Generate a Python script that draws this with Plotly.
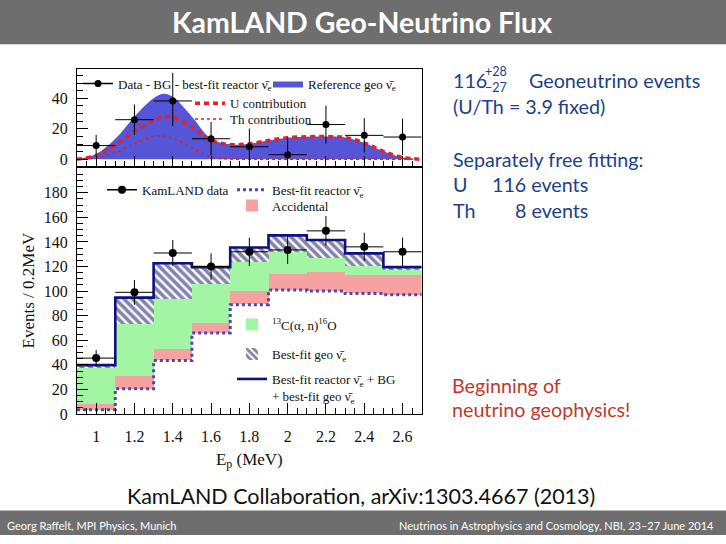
import plotly.graph_objects as go

W, H = 726, 544

# ---------------- data ----------------
# top panel: smooth expectation curves (events / 0.2 MeV)
E_CURVE = [0.9, 1.0, 1.1, 1.2, 1.3, 1.35, 1.4, 1.5, 1.6, 1.7, 1.8, 1.9, 2.0, 2.1, 2.2, 2.3, 2.4, 2.5, 2.6, 2.7]
REF_GEO = [0, 3.4, 13.5, 28, 40, 43, 41, 28, 13.5, 9.8, 10.2, 12.3, 14.2, 14.8, 14.9, 14.3, 10.8, 5.2, 1.2, 0]
U_CONTRIB = [0, 2.4, 9.3, 18.5, 25.6, 27.8, 27.6, 21, 12.5, 9.6, 10.2, 12.3, 14.2, 14.8, 14.9, 14.3, 10.8, 5.2, 1.2, 0]
TH_CONTRIB = [0, 1.0, 4.3, 10.3, 14.9, 15.3, 13.8, 7.6, 1.5, 0.2, 0, 0, 0, 0, 0, 0, 0, 0, 0, 0]

# bins
E_CENTERS = [1.0, 1.2, 1.4, 1.6, 1.8, 2.0, 2.2, 2.4, 2.6]
E_EDGES = [0.9, 1.1, 1.3, 1.5, 1.7, 1.9, 2.1, 2.3, 2.5, 2.7]
BIN_WIDTH = 0.2

# top panel data: Data - BG - best-fit reactor
GEO_DATA = [9, 26, 38.3, 13.5, 8.2, 3, 22.8, 15.7, 14.6]
GEO_ERR_UP = [7, 10, 18.5, 11, 12, 11.6, 12.5, 11.3, 12]
GEO_ERR_DN = [7, 10, 16.6, 11, 12, 11.6, 12.5, 11.3, 12]

# lower panel components
REACTOR = [3.5, 20.5, 43.5, 66, 89, 101, 100, 98, 97]
ACCIDENTAL = [4.5, 10.5, 9, 8, 11, 13, 15, 15.3, 15.8]
C13_AN = [29.3, 42, 40.8, 32, 23.5, 17.5, 11.7, 7, 4]
GEO_FIT = [2.5, 21.7, 29.4, 13.5, 12, 13.8, 14.9, 10.4, 2.7]

KL_DATA = [45.5, 99, 131, 120, 132, 133.5, 149, 136, 132]
KL_ERR = [6.5, 10, 10.5, 10.8, 11.5, 11.5, 12, 11.5, 11.5]

X_TICKS = [1.0, 1.2, 1.4, 1.6, 1.8, 2.0, 2.2, 2.4, 2.6]
X_TICK_LABELS = ["1", "1.2", "1.4", "1.6", "1.8", "2", "2.2", "2.4", "2.6"]
Y_TICKS_LOW = [0, 20, 40, 60, 80, 100, 120, 140, 160, 180]
Y_TICKS_TOP = [0, 20, 40]

NUBAR = "\u03bd\u0304<sub>e</sub>"

# ---------------- derived ----------------
base_acc = REACTOR
base_c13 = [r + a for r, a in zip(REACTOR, ACCIDENTAL)]
base_geo = [b + c for b, c in zip(base_c13, C13_AN)]
total = [b + g for b, g in zip(base_geo, GEO_FIT)]
reactor_step = REACTOR + [REACTOR[-1]]
total_step = total + [total[-1]]

SERIF = "Liberation Serif"
SANS = "Lato"

fig = go.Figure()

# ---------- top panel ----------
fig.add_trace(go.Scatter(
    x=E_CURVE, y=REF_GEO, mode="lines", line=dict(color="#5555d8", width=0, shape="spline"),
    fill="tozeroy", fillcolor="#5555d8", name="Reference geo " + NUBAR,
    xaxis="x2", yaxis="y2", legend="legend2"))
fig.add_trace(go.Scatter(
    x=E_CURVE, y=TH_CONTRIB, mode="lines",
    line=dict(color="#d8202c", width=1.5, dash="dot", shape="spline"),
    name="Th contribution", xaxis="x2", yaxis="y2", legend="legend4"))
fig.add_trace(go.Scatter(
    x=E_CURVE, y=U_CONTRIB, mode="lines",
    line=dict(color="#e4202a", width=3.5, dash="5px,4px", shape="spline"),
    name="U contribution", xaxis="x2", yaxis="y2", legend="legend3"))
fig.add_trace(go.Scatter(
    x=E_CENTERS, y=GEO_DATA, mode="markers",
    marker=dict(color="black", size=7),
    error_y=dict(type="data", array=GEO_ERR_UP, arrayminus=GEO_ERR_DN, color="black", thickness=1, width=0),
    error_x=dict(type="constant", value=BIN_WIDTH / 2, color="black", thickness=1, width=0),
    showlegend=False, xaxis="x2", yaxis="y2"))
# legend-only entry (line + marker symbol)
fig.add_trace(go.Scatter(
    x=[None], y=[None], mode="lines+markers",
    line=dict(color="black", width=1.5), marker=dict(color="black", size=7),
    name="Data - BG - best-fit reactor " + NUBAR, xaxis="x2", yaxis="y2", legend="legend"))

# ---------- lower panel ----------
fig.add_trace(go.Bar(
    x=E_CENTERS, y=ACCIDENTAL, base=base_acc, width=BIN_WIDTH,
    marker=dict(color="#f6a2a2", line=dict(width=0)), name="Accidental", legend="legend7"))
fig.add_trace(go.Bar(
    x=E_CENTERS, y=C13_AN, base=base_c13, width=BIN_WIDTH,
    marker=dict(color="#a2f5a2", line=dict(width=0)),
    name="<sup>13</sup>C(\u03b1, n)<sup>16</sup>O", legend="legend8"))
fig.add_trace(go.Bar(
    x=E_CENTERS, y=GEO_FIT, base=base_geo, width=BIN_WIDTH,
    marker=dict(color="white", line=dict(width=0),
                pattern=dict(shape="\\", fgcolor="#0a0a5c", bgcolor="white", size=6, solidity=0.6,
                             fillmode="overlay")),
    name="Best-fit geo " + NUBAR, legend="legend9"))
fig.add_trace(go.Scatter(
    x=E_EDGES, y=reactor_step, mode="lines",
    line=dict(color="#5048a8", width=3, dash="dot", shape="hv"),
    name="Best-fit reactor " + NUBAR, legend="legend6"))
fig.add_trace(go.Scatter(
    x=E_EDGES, y=total_step, mode="lines",
    line=dict(color="#10107e", width=2.6, shape="hv"),
    name="Best-fit reactor " + NUBAR + " + BG<br>+ best-fit geo " + NUBAR, legend="legend10"))
fig.add_trace(go.Scatter(
    x=E_CENTERS, y=KL_DATA, mode="markers",
    marker=dict(color="black", size=8),
    error_y=dict(type="data", array=KL_ERR, color="black", thickness=1, width=0),
    error_x=dict(type="constant", value=BIN_WIDTH / 2, color="black", thickness=1, width=0),
    showlegend=False))
fig.add_trace(go.Scatter(
    x=[None], y=[None], mode="lines+markers",
    line=dict(color="black", width=1.5), marker=dict(color="black", size=8),
    name="KamLAND data", legend="legend5"))

# ---------- geometry ----------
def fx(px):
    return px / W

def fy(py):
    return 1 - py / H

XDOM = [fx(77), fx(421.7)]
LOW_DOM = [fy(421), fy(170)]
TOP_DOM = [fy(170), fy(70)]

axis_common = dict(showline=True, linecolor="black", linewidth=1, mirror=True,
                   showgrid=False, zeroline=False, ticks="inside", tickcolor="black",
                   tickwidth=1, ticklen=11,
                   tickfont=dict(family=SERIF, size=16, color="#111"))

layout = dict(
    width=W, height=H, autosize=False, showlegend=True,
    margin=dict(l=0, r=0, t=0, b=0),
    paper_bgcolor="white", plot_bgcolor="white",
    barmode="overlay", bargap=0,
    xaxis=dict(domain=XDOM, range=[0.9, 2.7], anchor="y",
               tickmode="array", tickvals=X_TICKS, ticktext=X_TICK_LABELS,
               ticklabelstandoff=8,
               minor=dict(ticks="inside", ticklen=6, tickcolor="black", tickwidth=1, dtick=0.05, tick0=0.9),
               title=dict(text="E<sub>p</sub> (MeV)", font=dict(family=SERIF, size=17, color="#111"), standoff=8),
               **axis_common),
    yaxis=dict(domain=LOW_DOM, range=[0, 200.8], anchor="x",
               tickmode="array", tickvals=Y_TICKS_LOW, ticklabelstandoff=5,
               minor=dict(ticks="inside", ticklen=6, tickcolor="black", tickwidth=1, dtick=5, tick0=0),
               title=dict(text="Events / 0.2MeV", font=dict(family=SERIF, size=17, color="#111"), standoff=4),
               **axis_common),
    xaxis2=dict(domain=XDOM, range=[0.9, 2.7], anchor="y2", matches="x",
                showticklabels=False, tickmode="array", tickvals=X_TICKS,
                minor=dict(ticks="inside", ticklen=6, tickcolor="black", tickwidth=1, dtick=0.05, tick0=0.9),
                **axis_common),
    yaxis2=dict(domain=TOP_DOM, range=[-5.2, 59.4], anchor="x2",
                tickmode="array", tickvals=Y_TICKS_TOP, ticklabelstandoff=5,
                minor=dict(ticks="inside", ticklen=6, tickcolor="black", tickwidth=1, dtick=5, tick0=0),
                **axis_common),
)

leg_font = dict(family=SERIF, size=13, color="#111")
def leg(left_px, ymid_px, valign="middle"):
    return dict(x=fx(left_px), y=fy(ymid_px), xanchor="left", yanchor="middle",
                bgcolor="rgba(0,0,0,0)", borderwidth=0, font=leg_font, valign=valign,
                itemclick=False, itemdoubleclick=False)

layout["legend"] = leg(78, 85)
layout["legend2"] = leg(268, 85)
layout["legend3"] = leg(190, 105)
layout["legend4"] = leg(190, 121)
layout["legend5"] = leg(102, 193)
layout["legend6"] = leg(232, 193)
layout["legend7"] = leg(232, 209)
layout["legend8"] = leg(232, 330)
layout["legend9"] = leg(232, 360)
layout["legend10"] = leg(232, 394, valign="top")

# slide decorations
HEADER = "KamLAND Geo-Neutrino Flux"
FOOT_LEFT = "Georg Raffelt, MPI Physics, Munich"
FOOT_RIGHT = "Neutrinos in Astrophysics and Cosmology, NBI, 23\u201327 June 2014"
CITATION = "KamLAND Collaboration, arXiv:1303.4667 (2013)"

layout["shapes"] = [
    dict(type="rect", xref="paper", yref="paper", x0=0, x1=1, y0=fy(45), y1=1,
         fillcolor="#6e6e6e", line=dict(width=0), layer="below"),
    dict(type="rect", xref="paper", yref="paper", x0=0, x1=1, y0=0, y1=fy(519),
         fillcolor="#6e6e6e", line=dict(width=0), layer="below"),
]

BLUE_TXT = "#203f8c"
RED_TXT = "#c0392b"
tf = 19.7

def ann(text, xpx, ypx, size=tf, color=BLUE_TXT, xanchor="left", family=SANS, align="left"):
    return dict(text=text, x=fx(xpx), y=fy(ypx), xref="paper", yref="paper",
                xanchor=xanchor, yanchor="middle", showarrow=False, align=align,
                font=dict(family=family, size=size, color=color))

layout["annotations"] = [
    ann("<b>" + HEADER + "</b>", 362, 22, size=28.5, color="white", xanchor="center"),
    ann(FOOT_LEFT, 5, 534, size=11, color="white"),
    ann(FOOT_RIGHT, 716, 534, size=11, color="white", xanchor="right"),
    ann(CITATION, 361, 504, size=21.5, color="#111", xanchor="center"),
    ann("116", 451, 82),
    ann("+28<br>\u221227", 483, 81, size=12.5),
    ann("Geoneutrino events", 527, 82),
    ann("(U/Th = 3.9 fixed)", 451, 108),
    ann("Separately free fitting:", 451, 162),
    ann("U", 451, 188),
    ann("116 events", 490, 188),
    ann("Th", 451, 214),
    ann("8 events", 513, 214),
    ann("Beginning of", 450, 392, color=RED_TXT),
    ann("neutrino geophysics!", 450, 416, color=RED_TXT),
]

fig.update_layout(**layout)
fig.write_html("out.html")
